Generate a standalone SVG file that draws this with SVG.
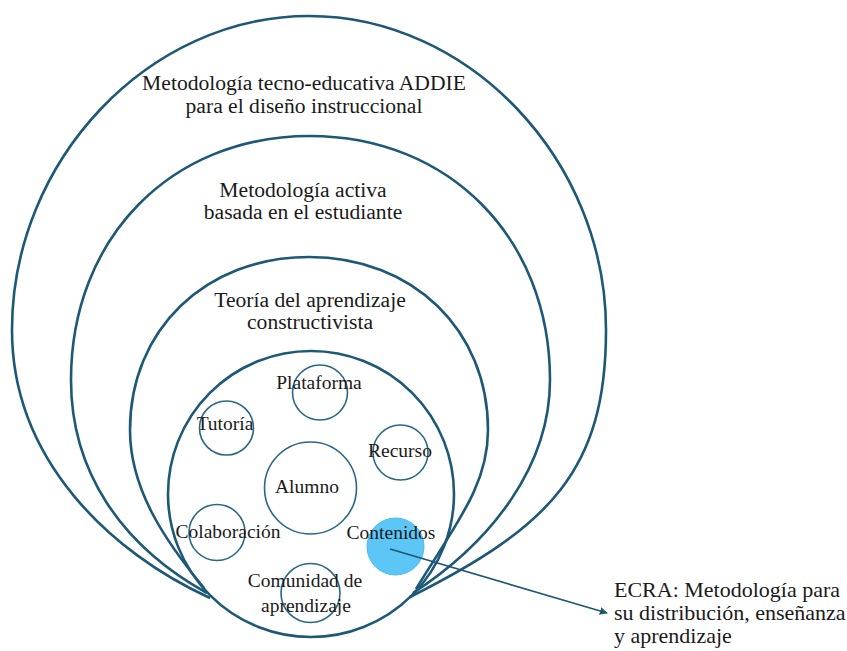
<svg xmlns="http://www.w3.org/2000/svg" width="847" height="651" viewBox="0 0 847 651">
  <defs>
    <style>
      .ring { fill: none; stroke: #1d5876; stroke-width: 2.6; }
      .small { fill: none; stroke: #2a6785; stroke-width: 1.6; }
      text { font-family: 'Liberation Serif', 'Times New Roman', 'DejaVu Serif', serif; fill: #1a1a1a; }
      .big { font-size: 21.6px; text-anchor: middle; }
      .lbl { font-size: 19.5px; text-anchor: middle; }
      .note { font-size: 22px; }
      .conn { fill: none; stroke: #1d5876; stroke-width: 1.6; }
    </style>
    <marker id="arrow" viewBox="0 0 10 10" refX="9" refY="5" markerWidth="8" markerHeight="8" markerUnits="userSpaceOnUse" orient="auto">
      <path d="M0,0 L10,5 L0,10 Z" fill="#1d5876"/>
    </marker>
  </defs>
  <rect width="847" height="651" fill="#ffffff"/>

  <g id="ring-addie">
    <path class="ring" d="M210,598 C111,553 12,460 12,330 C12,160 149,16 309,16 C469,16 606,160 606,330 C606,470 550,527 410,597"/>
    <text class="big" x="304" y="90">Metodología tecno-educativa ADDIE</text>
    <text class="big" x="304" y="113">para el diseño instruccional</text>
  </g>

  <g id="ring-activa">
    <path class="ring" d="M207,593 C120,545 71,470 71,380 C71,238 171,136 310,136 C449,136 550,238 550,380 C550,465 493,541 413,593"/>
    <text class="big" x="303" y="197">Metodología activa</text>
    <text class="big" x="303" y="219">basada en el estudiante</text>
  </g>

  <g id="ring-constructivista">
    <path class="ring" d="M204,588 C166,542 130,490 130,430 C130,330 205,257 309,257 C413,257 488,330 488,430 C488,485 457,522 416,589"/>
    <text class="big" x="310" y="307">Teoría del aprendizaje</text>
    <text class="big" x="310" y="329">constructivista</text>
  </g>

  <g id="ring-ecra">
    <circle class="ring" cx="311" cy="494" r="143"/>
  </g>

  <g id="node-plataforma">
    <circle class="small" cx="320" cy="392.5" r="27.5"/>
    <text class="lbl" x="319" y="389">Plataforma</text>
  </g>
  <g id="node-tutoria">
    <circle class="small" cx="226.5" cy="428" r="27"/>
    <text class="lbl" x="225" y="430">Tutoría</text>
  </g>
  <g id="node-recurso">
    <circle class="small" cx="400.5" cy="452.5" r="27.5"/>
    <text class="lbl" x="400" y="457">Recurso</text>
  </g>
  <g id="node-alumno">
    <circle class="small" cx="310.5" cy="488" r="46"/>
    <text class="lbl" x="307" y="493">Alumno</text>
  </g>
  <g id="node-colaboracion">
    <circle class="small" cx="217" cy="532.5" r="28"/>
    <text class="lbl" x="228" y="538">Colaboración</text>
  </g>
  <g id="node-contenidos">
    <circle cx="395.5" cy="546.5" r="28.5" fill="#5cc6f7" stroke="#4fbaf0" stroke-width="1"/>
    <text class="lbl" x="391" y="539">Contenidos</text>
  </g>
  <g id="node-comunidad">
    <circle class="small" cx="310.5" cy="593" r="29.5"/>
    <text class="lbl" x="305" y="587">Comunidad de</text>
    <text class="lbl" x="306" y="612">aprendizaje</text>
  </g>

  <g id="node-ecra-note">
    <text class="note" x="614" y="597">ECRA: Metodología para</text>
    <text class="note" x="614" y="620">su distribución, enseñanza</text>
    <text class="note" x="614" y="643">y aprendizaje</text>
  </g>

  <g id="connectors">
    <line class="conn" x1="390" y1="549" x2="607" y2="613" marker-end="url(#arrow)"/>
  </g>
</svg>
